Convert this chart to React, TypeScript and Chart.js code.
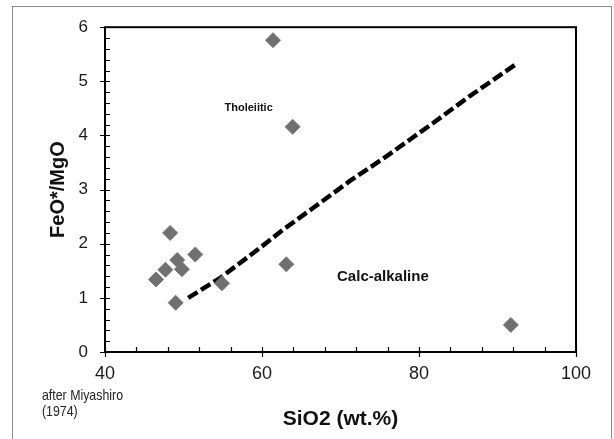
import React, { useEffect, useRef } from 'react';
import { Chart, registerables } from 'chart.js';

Chart.register(...registerables);

// Sample points
const siO2 = [61.4, 63.9, 48.3, 51.5, 49.2, 47.7, 49.8, 46.5, 49.0, 54.9, 63.1, 91.7];
const feoMgo = [5.76, 4.16, 2.2, 1.8, 1.7, 1.52, 1.53, 1.34, 0.91, 1.27, 1.62, 0.5];

// Tholeiitic / calc-alkaline dividing line (Miyashiro 1974)
const lineSiO2 = [50.6, 54.7, 59.8, 62.7, 66.5, 71.2, 75.9, 78.9, 81.8, 86.5, 92.6];
const lineFeO = [1.0, 1.37, 1.93, 2.26, 2.66, 3.16, 3.62, 3.93, 4.23, 4.73, 5.34];

const xTickValues = [40, 60, 80, 100];
const yTickValues = [0, 1, 2, 3, 4, 5, 6];

const xTitle = 'SiO2 (wt.%)';
const yTitle = 'FeO*/MgO';
const labelTh = 'Tholeiitic';
const labelCa = 'Calc-alkaline';
const sourceLines = ['after Miyashiro', '(1974)'];

const FONT = "'Liberation Sans', Arial, Helvetica, sans-serif";
const NARROW = "'Liberation Sans Narrow', 'Arial Narrow', 'Liberation Sans', Arial, sans-serif";

const decor = {
  id: 'decor',
  beforeDraw(chart: any) {
    const { ctx, width, height } = chart;
    ctx.save();
    ctx.fillStyle = '#ffffff';
    ctx.fillRect(0, 0, width, height);
    ctx.restore();
  },
  afterDraw(chart: any) {
    const { ctx, chartArea: a } = chart;
    const x = chart.scales.x;
    const y = chart.scales.y;
    ctx.save();
    // outer frame
    ctx.strokeStyle = '#8c8c8c';
    ctx.lineWidth = 1;
    ctx.strokeRect(12.5, 6.5, 599, 470);
    // plot frame
    ctx.strokeStyle = '#000';
    ctx.lineWidth = 2;
    ctx.strokeRect(a.left, a.top, a.right - a.left, a.bottom - a.top);
    // tick marks
    ctx.lineWidth = 1.2;
    ctx.beginPath();
    for (let i = 0; i <= 15; i++) {
      const v = 40 + 4 * i;
      const px = Math.round(x.getPixelForValue(v)) + 0.5;
      const major = i % 5 === 0;
      ctx.moveTo(px, a.bottom - 5);
      ctx.lineTo(px, a.bottom + (major ? 5 : 0));
    }
    for (let j = 0; j <= 30; j++) {
      const v = j * 0.2;
      const py = Math.round(y.getPixelForValue(v)) + 0.5;
      const major = j % 5 === 0;
      ctx.moveTo(a.left + 5, py);
      ctx.lineTo(a.left - (major ? 5 : 0), py);
    }
    ctx.stroke();

    // axis titles
    ctx.fillStyle = '#111';
    ctx.textAlign = 'center';
    ctx.textBaseline = 'middle';
    ctx.font = `bold 21px ${FONT}`;
    ctx.fillText(xTitle, (a.left + a.right) / 2, 419);
    ctx.save();
    ctx.translate(58, (a.top + a.bottom) / 2);
    ctx.rotate(-Math.PI / 2);
    ctx.font = `bold 20px ${FONT}`;
    ctx.fillText(yTitle, 0, 0);
    ctx.restore();

    // region labels
    ctx.font = `bold 11px ${FONT}`;
    ctx.fillText(labelTh, x.getPixelForValue(58.3), y.getPixelForValue(4.5));
    ctx.font = `bold 15px ${FONT}`;
    ctx.fillText(labelCa, x.getPixelForValue(75.4), y.getPixelForValue(1.38));

    // source note (condensed)
    ctx.textAlign = 'left';
    ctx.fillStyle = '#222';
    ctx.font = `15px ${NARROW}`;
    const w = ctx.measureText(sourceLines[0]).width;
    const sx = Math.min(1, 81 / w);
    ctx.save();
    ctx.translate(42, 0);
    ctx.scale(sx, 1);
    ctx.fillText(sourceLines[0], 0, 396);
    ctx.fillText(sourceLines[1], 0, 412);
    ctx.restore();
    ctx.restore();
  },
};

export default function App() {
  const ref = useRef<HTMLCanvasElement | null>(null);

  useEffect(() => {
    document.body.style.margin = '0';
    const canvas = ref.current;
    if (!canvas) return;
    const chart = new Chart(canvas, {
      data: {
        datasets: [
          {
            type: 'scatter',
            label: 'Samples',
            data: siO2.map((v, i) => ({ x: v, y: feoMgo[i] })),
            pointStyle: 'rectRot',
            pointRadius: 7.5,
            pointBackgroundColor: '#707070',
            pointBorderColor: '#7a7a7a',
            pointBorderWidth: 1,
          },
          {
            type: 'line',
            label: 'TH / CA',
            data: lineSiO2.map((v, i) => ({ x: v, y: lineFeO[i] })),
            borderColor: '#000',
            borderWidth: 4.5,
            borderDash: [11, 4],
            pointRadius: 0,
            fill: false,
            tension: 0,
          },
        ],
      } as any,
      options: {
        responsive: false,
        animation: false,
        devicePixelRatio: 1,
        layout: { padding: { top: 26, right: 38, left: 0, bottom: 0 } },
        plugins: { legend: { display: false }, tooltip: { enabled: false } },
        scales: {
          x: {
            type: 'linear',
            min: 40,
            max: 100,
            afterBuildTicks: (s: any) => {
              s.ticks = xTickValues.map((v) => ({ value: v }));
            },
            afterFit: (s: any) => {
              s.height = 87;
            },
            grid: { display: false, drawTicks: false },
            border: { display: false },
            ticks: {
              padding: 11,
              color: '#1a1a1a',
              font: { family: FONT, size: 18 },
              maxRotation: 0,
            },
          },
          y: {
            type: 'linear',
            min: 0,
            max: 6,
            afterBuildTicks: (s: any) => {
              s.ticks = yTickValues.map((v) => ({ value: v }));
            },
            afterFit: (s: any) => {
              s.width = 105;
            },
            grid: { display: false, drawTicks: false },
            border: { display: false },
            ticks: {
              padding: 17,
              color: '#1a1a1a',
              font: { family: FONT, size: 17 },
            },
          },
        },
      },
      plugins: [decor],
    } as any);
    return () => chart.destroy();
  }, []);

  return (
    <canvas
      ref={ref}
      width={614}
      height={439}
      style={{ display: 'block', width: 614, height: 439 }}
    />
  );
}
